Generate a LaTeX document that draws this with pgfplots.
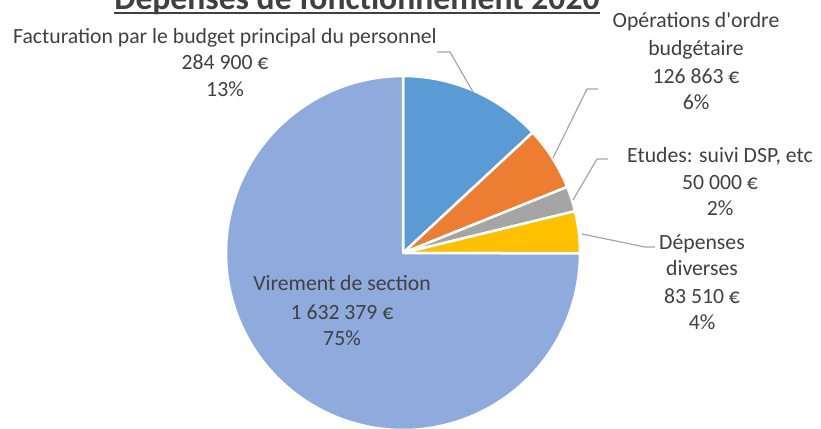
\documentclass[border=0pt]{standalone}
\usepackage{pgfplots}
\pgfplotsset{compat=1.18}
\usepgfplotslibrary{polar}
\usepackage{fontspec}
\setmainfont{Carlito}
\definecolor{cA}{HTML}{5B9BD5}
\definecolor{cB}{HTML}{ED7D31}
\definecolor{cC}{HTML}{A5A5A5}
\definecolor{cD}{HTML}{FFC000}
\definecolor{cE}{HTML}{8FAADC}
\definecolor{txt}{HTML}{404040}
\definecolor{lead}{HTML}{A6A6A6}
% values (EUR)
\def\vA{284900}  % Facturation par le budget principal du personnel
\def\vB{126863}  % Operations d'ordre budgetaire
\def\vC{50000}   % Etudes
\def\vD{83510}   % Depenses diverses
\def\vE{1632379} % Virement de section
\edef\tot{\fpeval{\vA+\vB+\vC+\vD+\vE}}
\edef\aO{90}
\edef\aA{\fpeval{90-360*\vA/\tot}}
\edef\aB{\fpeval{\aA-360*\vB/\tot}}
\edef\aC{\fpeval{\aB-360*\vC/\tot}}
\edef\aD{\fpeval{\aC-360*\vD/\tot}}
\edef\aE{\fpeval{\aD-360*\vE/\tot}}
\newcommand\lab[3]{\node[anchor=base,inner sep=0pt,text=txt,font=\fontsize{21.7bp}{26bp}\selectfont] at (#1,{428-#2}) {#3};}
\begin{document}
\begin{tikzpicture}[x=1bp,y=1bp]
\useasboundingbox (0,0) rectangle (821,428);
\begin{polaraxis}[at={(403bp,175bp)}, anchor=origin, scale only axis,
  width=354bp, height=354bp, hide axis, ymin=0, ymax=1, xmin=0, xmax=360, clip=false]
\addplot[fill=cA, draw=white, line width=2.5bp, line join=round, domain=\aA:\aO, samples=60] {1} -- (axis cs:0,0) -- cycle;
\addplot[fill=cB, draw=white, line width=2.5bp, line join=round, domain=\aB:\aA, samples=40] {1} -- (axis cs:0,0) -- cycle;
\addplot[fill=cC, draw=white, line width=2.5bp, line join=round, domain=\aC:\aB, samples=20] {1} -- (axis cs:0,0) -- cycle;
\addplot[fill=cD, draw=white, line width=2.5bp, line join=round, domain=\aD:\aC, samples=30] {1} -- (axis cs:0,0) -- cycle;
\addplot[fill=cE, draw=white, line width=2.5bp, line join=round, domain=\aE:\aD, samples=200] {1} -- (axis cs:0,0) -- cycle;
\end{polaraxis}
% leader lines
\draw[lead, line width=1.2bp] (437,{428-52}) -- (450,{428-52}) -- (473,{428-92});
\draw[lead, line width=1.2bp] (598,{428-89}) -- (587,{428-89}) -- (553,{428-158});
\draw[lead, line width=1.2bp] (608,{428-159}) -- (597,{428-159}) -- (573,{428-200});
\draw[lead, line width=1.2bp] (582,{428-234}) -- (645,{428-247}) -- (655,{428-247});
% title
\node[anchor=base, inner sep=0pt, text=txt, font=\fontsize{33.6bp}{40bp}\selectfont\bfseries] (t) at (357,{428-10}) {Dépenses de fonctionnement 2020};
\draw[txt, line width=2bp] ([yshift=-3.5bp]t.base west) -- ([yshift=-3.5bp]t.base east);
% labels
\lab{225}{43}{Facturation par le budget principal du personnel}
\lab{225}{69}{284 900 €}
\lab{225}{96}{13\%}
\lab{696}{28}{Opérations d\textquotesingle ordre}
\lab{696}{55}{budgétaire}
\lab{696}{83}{126 863 €}
\lab{696}{109}{6\%}
\lab{720}{162}{Etudes: suivi DSP, etc}
\lab{720}{189}{50 000 €}
\lab{720}{215}{2\%}
\lab{702}{249}{Dépenses}
\lab{702}{275}{diverses}
\lab{702}{303}{83 510 €}
\lab{702}{329}{4\%}
\lab{342}{290}{Virement de section}
\lab{342}{319}{1 632 379 €}
\lab{342}{345}{75\%}
\end{tikzpicture}
\end{document}
